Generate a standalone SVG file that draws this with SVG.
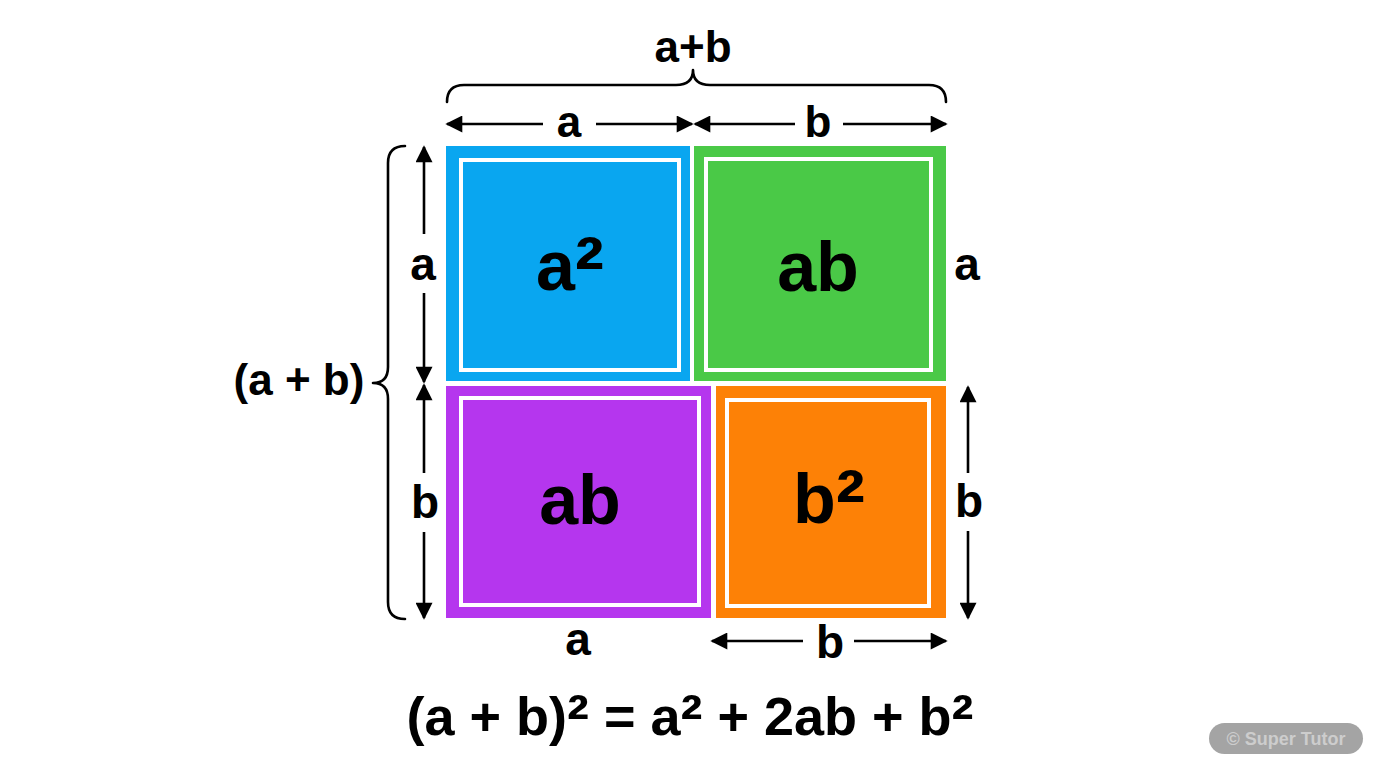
<svg xmlns="http://www.w3.org/2000/svg" width="1376" height="768" viewBox="0 0 1376 768">
<defs>
<marker id="ah" viewBox="0 0 10 10" refX="9" refY="5" markerUnits="userSpaceOnUse" markerWidth="18" markerHeight="17" orient="auto">
<path d="M0,0 L10,5 L0,10 z" fill="#000"/>
</marker>
<style>
text{font-family:"Liberation Sans",Arial,sans-serif;font-weight:700;fill:#000;text-anchor:middle}
.sq{font-size:70px}
.lbl{font-size:46px}
.top{font-size:44px}
.eq{font-size:54px}
.inner{fill:none;stroke:#fff;stroke-width:4}
.ln{stroke:#000;stroke-width:2.6;fill:none;marker-end:url(#ah)}
.br{stroke:#000;stroke-width:2.6;fill:none;stroke-linecap:round;stroke-linejoin:round}
</style>
</defs>
<rect width="1376" height="768" fill="#fff"/>
<g id="sq-a2">
<rect x="446" y="146" width="244" height="235" fill="#09a6f0"/>
<rect class="inner" x="461" y="160" width="218" height="210"/>
<text class="sq" x="570" y="290">a<tspan font-size="88" dy="9">²</tspan></text>
</g>
<g id="sq-ab-top">
<rect x="694" y="146" width="252" height="235" fill="#4ac947"/>
<rect class="inner" x="706" y="159" width="225" height="211"/>
<text class="sq" x="818" y="291">ab</text>
</g>
<g id="sq-ab-bottom">
<rect x="446" y="386" width="265" height="232" fill="#b536ee"/>
<rect class="inner" x="461" y="398" width="238" height="207"/>
<text class="sq" x="580" y="524">ab</text>
</g>
<g id="sq-b2">
<rect x="716" y="386" width="230" height="232" fill="#fd8106"/>
<rect class="inner" x="727" y="400" width="202" height="206"/>
<text class="sq" x="829" y="523">b<tspan font-size="88" dy="9">²</tspan></text>
</g>
<g id="connectors">
<path class="br" d="M447,102 Q447,85 464,85 L676,85 Q693,85 693,70 Q693,85 710,85 L929,85 Q946,85 946,102"/>
<path class="br" d="M405,146 Q388,146 388,163 L388,367 Q388,383 373,383 Q388,383 388,399 L388,602 Q388,619 405,619"/>
<line class="ln" x1="543" y1="124" x2="447" y2="124"/>
<line class="ln" x1="596" y1="124" x2="692" y2="124"/>
<line class="ln" x1="795" y1="124" x2="695" y2="124"/>
<line class="ln" x1="843" y1="124" x2="946" y2="124"/>
<line class="ln" x1="424" y1="234" x2="424" y2="147"/>
<line class="ln" x1="424" y1="293" x2="424" y2="382"/>
<line class="ln" x1="424" y1="473" x2="424" y2="385"/>
<line class="ln" x1="424" y1="532" x2="424" y2="618"/>
<line class="ln" x1="968" y1="473" x2="968" y2="387"/>
<line class="ln" x1="968" y1="531" x2="968" y2="618"/>
<line class="ln" x1="803" y1="641" x2="712" y2="641"/>
<line class="ln" x1="854" y1="641" x2="946" y2="641"/>
</g>
<g id="labels">
<text class="top" x="693" y="62">a+b</text>
<text class="top" x="569" y="137">a</text>
<text class="top" x="818" y="137">b</text>
<text class="lbl" x="423" y="280">a</text>
<text class="lbl" x="425" y="518">b</text>
<text class="lbl" x="967" y="280">a</text>
<text class="lbl" x="969" y="517">b</text>
<text class="lbl" x="578" y="655">a</text>
<text class="lbl" x="830" y="658">b</text>
<text class="top" x="299" y="395">(a + b)</text>
</g>
<g id="equation">
<text class="eq" x="690" y="735">(a + b)<tspan font-size="66" dy="6">²</tspan><tspan dy="-6"> = a</tspan><tspan font-size="66" dy="6">²</tspan><tspan dy="-6"> + 2ab + b</tspan><tspan font-size="66" dy="6">²</tspan></text>
</g>
<g id="watermark">
<rect x="1209" y="723" width="154" height="31" rx="15.5" fill="#a4a4a4"/>
<text x="1286" y="745" style="font-size:18px;fill:#cdcdcd">© Super Tutor</text>
</g>
</svg>
